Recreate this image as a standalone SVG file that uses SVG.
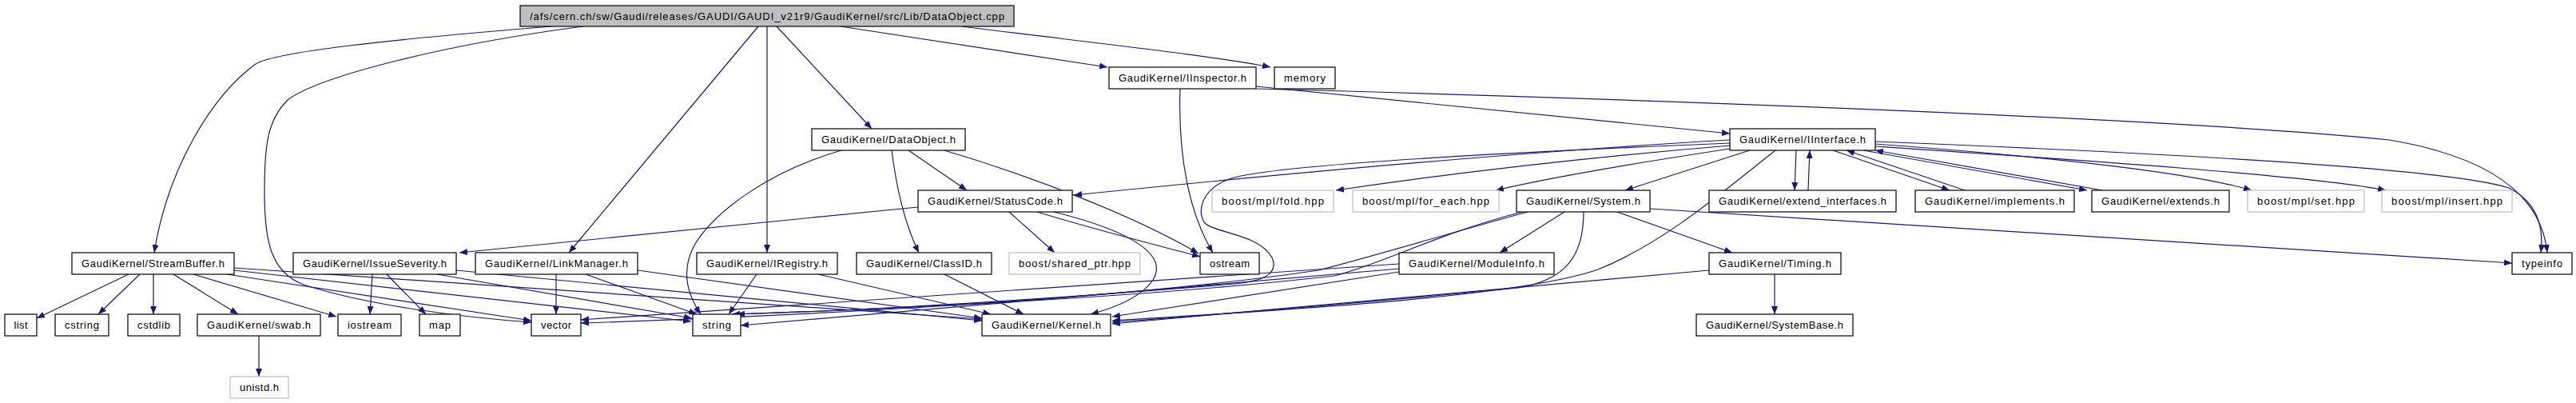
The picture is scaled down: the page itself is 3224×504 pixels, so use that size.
<svg xmlns="http://www.w3.org/2000/svg" width="3224" height="504" viewBox="0 0 3224 504">
<style>
.n rect{fill:#fff;stroke:#000;stroke-width:1.2}
.g rect{fill:#fff;stroke:#bfbfbf;stroke-width:1.2}
.r rect{fill:#bfbfbf;stroke:#000;stroke-width:1.2}
text{font-family:"Liberation Sans",Arial,sans-serif;font-size:13px;text-anchor:middle;fill:#000}
.e path{fill:none;stroke:#191970;stroke-width:1.2;marker-end:url(#a)}
</style>
<defs>
<marker id="a" markerWidth="10" markerHeight="8" refX="10" refY="4" orient="auto" markerUnits="userSpaceOnUse"><path d="M0,0 L10,4 L0,8 z" fill="#191970"/></marker>
</defs>
<rect width="3224" height="504" fill="#fff"/>
<g class="e" id="edges">
<path d="M690,33 C480,50 345,65 320,80 C265,120 210,210 193,316"/>
<path d="M730,33 C560,55 400,95 360,125 C335,150 331,180 331,240 C331,300 338,340 380,356 C460,382 580,397 665,403"/>
<path d="M949,33 L712,316"/>
<path d="M960,33 L960,316"/>
<path d="M972,33 L1091,161"/>
<path d="M1052,33 L1386,84"/>
<path d="M1203,33 C1380,55 1520,70 1590,84"/>
<path d="M1477,111 C1474,200 1490,270 1518,316"/>
<path d="M1572,108 L2165,167"/>
<path d="M1572,111 C2100,125 2750,150 2990,175 C3110,195 3180,240 3188,316"/>
<path d="M1053,188 C960,215 895,265 870,305 C853,335 858,365 877,393"/>
<path d="M1116,188 C1122,235 1132,280 1150,316"/>
<path d="M1137,188 L1210,238"/>
<path d="M1182,188 C1290,220 1420,270 1500,317"/>
<path d="M1149,259 L575,316"/>
<path d="M1263,265 L1320,316"/>
<path d="M1298,265 C1380,290 1450,307 1502,321"/>
<path d="M1319,265 C1420,290 1462,320 1443,350 C1428,372 1395,385 1365,393"/>
<path d="M2165,175 C1900,190 1560,222 1344,244"/>
<path d="M2165,179 C1900,190 1600,205 1541,223 C1505,235 1498,262 1507,278 C1520,292 1575,292 1592,322 C1602,345 1575,352 1545,355 C1300,375 1100,388 916,393"/>
<path d="M2165,182 C1950,200 1780,222 1672,238"/>
<path d="M2165,186 C2040,205 1940,222 1872,238"/>
<path d="M2190,188 L2034,238"/>
<path d="M2222,188 C2150,245 2080,305 2000,337 C1900,372 1600,388 1392,401"/>
<path d="M2248,188 L2246,238"/>
<path d="M2263,238 L2265,188"/>
<path d="M2294,188 L2440,238"/>
<path d="M2459,238 L2311,188"/>
<path d="M2332,188 L2612,238"/>
<path d="M2631,238 L2347,188"/>
<path d="M2347,180 C2550,195 2740,215 2818,238"/>
<path d="M2347,183 C2600,200 2900,220 2986,238"/>
<path d="M2347,177 C2800,195 3080,215 3140,235 C3180,255 3183,290 3180,316"/>
<path d="M1958,265 L1877,316"/>
<path d="M2024,265 L2168,316"/>
<path d="M2065,261 L3144,329"/>
<path d="M1982,265 C1982,320 1960,350 1900,360 C1700,380 1500,395 1392,403"/>
<path d="M1912,265 C1820,290 1720,320 1650,338 C1400,375 1000,395 727,404"/>
<path d="M1905,265 C1800,292 1730,330 1670,345 C1450,370 1150,385 922,393"/>
<path d="M1751,340 L1392,396"/>
<path d="M1751,330 L727,400"/>
<path d="M1751,336 L927,407"/>
<path d="M2221,343 L2221,393"/>
<path d="M2139,338 L1392,405"/>
<path d="M161,343 L46,398"/>
<path d="M175,343 L123,393"/>
<path d="M192,343 L192,393"/>
<path d="M217,343 L298,393"/>
<path d="M242,343 L421,396"/>
<path d="M284,343 L665,401"/>
<path d="M293,338 L865,402"/>
<path d="M293,335 L1229,399"/>
<path d="M466,343 L463,393"/>
<path d="M484,343 L533,393"/>
<path d="M547,343 L866,398"/>
<path d="M571,338 L1229,401"/>
<path d="M696,343 L696,393"/>
<path d="M733,343 L872,393"/>
<path d="M798,338 L1229,398"/>
<path d="M947,343 L912,393"/>
<path d="M1024,343 L1240,393"/>
<path d="M1182,343 L1281,393"/>
<path d="M324,420 L324,471"/>
</g>
<g id="root" class="r"><rect x="651" y="7" width="618" height="26"/><text x="960" y="25" textLength="594">/afs/cern.ch/sw/Gaudi/releases/GAUDI/GAUDI_v21r9/GaudiKernel/src/Lib/DataObject.cpp</text></g>
<g id="inspector" class="n"><rect x="1388" y="84" width="184" height="27"/><text x="1480" y="102" textLength="160">GaudiKernel/IInspector.h</text></g>
<g id="memory" class="n"><rect x="1595" y="84" width="76" height="27"/><text x="1633" y="102" textLength="52">memory</text></g>
<g id="dataobject" class="n"><rect x="1016" y="161" width="192" height="27"/><text x="1112" y="179" textLength="168">GaudiKernel/DataObject.h</text></g>
<g id="iinterface" class="n"><rect x="2165" y="161" width="182" height="27"/><text x="2256" y="179" textLength="158">GaudiKernel/IInterface.h</text></g>
<g id="statuscode" class="n"><rect x="1149" y="238" width="193" height="27"/><text x="1245.5" y="256" textLength="169">GaudiKernel/StatusCode.h</text></g>
<g id="fold" class="g"><rect x="1517" y="238" width="152" height="27"/><text x="1593" y="256" textLength="128">boost/mpl/fold.hpp</text></g>
<g id="foreach" class="g"><rect x="1693" y="238" width="183" height="27"/><text x="1784.5" y="256" textLength="159">boost/mpl/for_each.hpp</text></g>
<g id="system" class="n"><rect x="1898" y="238" width="167" height="27"/><text x="1981.5" y="256" textLength="143">GaudiKernel/System.h</text></g>
<g id="extint" class="n"><rect x="2139" y="238" width="234" height="27"/><text x="2256" y="256" textLength="210">GaudiKernel/extend_interfaces.h</text></g>
<g id="implements" class="n"><rect x="2397" y="238" width="199" height="27"/><text x="2496.5" y="256" textLength="175">GaudiKernel/implements.h</text></g>
<g id="extends" class="n"><rect x="2618" y="238" width="172" height="27"/><text x="2704" y="256" textLength="148">GaudiKernel/extends.h</text></g>
<g id="set" class="g"><rect x="2813" y="238" width="146" height="27"/><text x="2886" y="256" textLength="122">boost/mpl/set.hpp</text></g>
<g id="insert" class="g"><rect x="2981" y="238" width="163" height="27"/><text x="3062.5" y="256" textLength="139">boost/mpl/insert.hpp</text></g>
<g id="streambuffer" class="n"><rect x="90" y="316" width="203" height="27"/><text x="191.5" y="334" textLength="179">GaudiKernel/StreamBuffer.h</text></g>
<g id="issueseverity" class="n"><rect x="367" y="316" width="204" height="27"/><text x="469" y="334" textLength="180">GaudiKernel/IssueSeverity.h</text></g>
<g id="linkmanager" class="n"><rect x="595" y="316" width="203" height="27"/><text x="696.5" y="334" textLength="179">GaudiKernel/LinkManager.h</text></g>
<g id="iregistry" class="n"><rect x="872" y="316" width="176" height="27"/><text x="960" y="334" textLength="152">GaudiKernel/IRegistry.h</text></g>
<g id="classid" class="n"><rect x="1072" y="316" width="169" height="27"/><text x="1156.5" y="334" textLength="145">GaudiKernel/ClassID.h</text></g>
<g id="sharedptr" class="g"><rect x="1263" y="316" width="164" height="27"/><text x="1345" y="334" textLength="140">boost/shared_ptr.hpp</text></g>
<g id="ostream" class="n"><rect x="1502" y="316" width="74" height="27"/><text x="1539" y="334" textLength="50">ostream</text></g>
<g id="moduleinfo" class="n"><rect x="1751" y="316" width="194" height="27"/><text x="1848" y="334" textLength="170">GaudiKernel/ModuleInfo.h</text></g>
<g id="timing" class="n"><rect x="2139" y="316" width="165" height="27"/><text x="2221.5" y="334" textLength="141">GaudiKernel/Timing.h</text></g>
<g id="typeinfo" class="n"><rect x="3144" y="316" width="75" height="27"/><text x="3181.5" y="334" textLength="51">typeinfo</text></g>
<g id="list" class="n"><rect x="6" y="393" width="40" height="27"/><text x="26" y="411" textLength="17">list</text></g>
<g id="cstring" class="n"><rect x="69" y="393" width="67" height="27"/><text x="102.5" y="411" textLength="43">cstring</text></g>
<g id="cstdlib" class="n"><rect x="160" y="393" width="65" height="27"/><text x="192.5" y="411" textLength="41">cstdlib</text></g>
<g id="swab" class="n"><rect x="247" y="393" width="154" height="27"/><text x="324" y="411" textLength="130">GaudiKernel/swab.h</text></g>
<g id="iostream" class="n"><rect x="423" y="393" width="79" height="27"/><text x="462.5" y="411" textLength="55">iostream</text></g>
<g id="map" class="n"><rect x="525" y="393" width="51" height="27"/><text x="550.5" y="411" textLength="27">map</text></g>
<g id="vector" class="n"><rect x="665" y="393" width="62" height="27"/><text x="696" y="411" textLength="38">vector</text></g>
<g id="string" class="n"><rect x="867" y="393" width="60" height="27"/><text x="897" y="411" textLength="36">string</text></g>
<g id="kernel" class="n"><rect x="1229" y="393" width="161" height="27"/><text x="1309.5" y="411" textLength="137">GaudiKernel/Kernel.h</text></g>
<g id="systembase" class="n"><rect x="2123" y="393" width="196" height="27"/><text x="2221" y="411" textLength="172">GaudiKernel/SystemBase.h</text></g>
<g id="unistd" class="g"><rect x="288" y="471" width="73" height="27"/><text x="324.5" y="489" textLength="49">unistd.h</text></g>
</svg>
